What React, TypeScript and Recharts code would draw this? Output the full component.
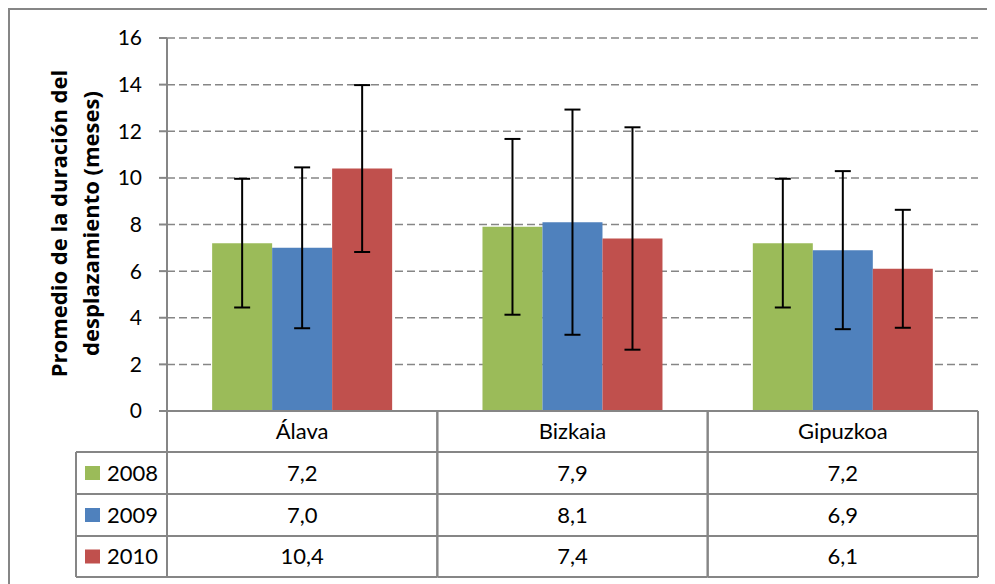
import { BarChart, Bar, XAxis, YAxis, CartesianGrid, ErrorBar } from 'recharts'

if (typeof document !== 'undefined') document.body.style.overflow = 'hidden'

// data
const provinces = ['Álava', 'Bizkaia', 'Gipuzkoa']
const years = ['2008', '2009', '2010']
const mean2008 = [7.2, 7.9, 7.2]
const mean2009 = [7.0, 8.1, 6.9]
const mean2010 = [10.4, 7.4, 6.1]
const err2008 = [2.76, 3.77, 2.76]
const err2009 = [3.45, 4.83, 3.39]
const err2010 = [3.58, 4.77, 2.53]
const yTicks = [0, 2, 4, 6, 8, 10, 12, 14, 16]

const colors = ['#9BBB59', '#4F81BD', '#C0504D']
const means = [mean2008, mean2009, mean2010]

const data = provinces.map((p, i) => ({
  name: p,
  y2008: mean2008[i],
  y2009: mean2009[i],
  y2010: mean2010[i],
  e2008: err2008[i],
  e2009: err2009[i],
  e2010: err2010[i],
}))

const GRID = '#868686'
const FONT = 'Lato, "Noto Sans", sans-serif'
const PLOT_W = 811
const ROWS = [0, 41, 83, 125, 166]
const KEY_W = 91

const fmt = (v: number) => v.toFixed(1).replace('.', ',')

function TableColumn(props: any) {
  const { x, y, payload, index } = props
  const bw = PLOT_W / provinces.length
  const left = x - bw / 2
  const right = x + bw / 2
  const ci = provinces.indexOf(payload.value)
  return (
    <g>
      <line x1={left} y1={y} x2={left} y2={y + ROWS[4]} stroke={GRID} strokeWidth={2} />
      <line x1={right} y1={y} x2={right} y2={y + ROWS[4]} stroke={GRID} strokeWidth={2} />
      {ROWS.slice(1).map((r) => (
        <line key={r} x1={left} y1={y + r} x2={right} y2={y + r} stroke={GRID} strokeWidth={2} />
      ))}
      <text x={x} y={(y + ROWS[0] + y + ROWS[1]) / 2} dy="0.36em" textAnchor="middle" fontSize={22} fill="#000">
        {payload.value}
      </text>
      {means.map((m, k) => (
        <text key={k} x={x} y={y + (ROWS[k + 1] + ROWS[k + 2]) / 2} dy="0.36em" textAnchor="middle" fontSize={22} fill="#000">
          {fmt(m[ci])}
        </text>
      ))}
      {index === 0 && (
        <g>
          <line x1={left - KEY_W} y1={y + ROWS[1]} x2={left - KEY_W} y2={y + ROWS[4]} stroke={GRID} strokeWidth={2} />
          {ROWS.slice(1).map((r) => (
            <line key={r} x1={left - KEY_W} y1={y + r} x2={left} y2={y + r} stroke={GRID} strokeWidth={2} />
          ))}
          {years.map((yr, k) => {
            const cy = y + (ROWS[k + 1] + ROWS[k + 2]) / 2
            return (
              <g key={yr}>
                <rect x={left - KEY_W + 9} y={cy - 7} width={15} height={14} fill={colors[k]} />
                <text x={left - KEY_W + 31} y={cy} dy="0.36em" fontSize={22} fill="#000">
                  {yr}
                </text>
              </g>
            )
          })}
        </g>
      )}
    </g>
  )
}

function YLabel(props: any) {
  const { viewBox } = props
  const cy = viewBox.y + viewBox.height / 2 - 1
  const l1 = viewBox.x + 59
  const l2 = viewBox.x + 91
  return (
    <g fontWeight="bold" fontSize={22} fill="#000" fontFamily='"Open Sans", Lato, sans-serif'>
      <text x={l1} y={cy} textAnchor="middle" transform={`rotate(-90, ${l1}, ${cy})`}>
        Promedio de la duración del
      </text>
      <text x={l2} y={cy} textAnchor="middle" transform={`rotate(-90, ${l2}, ${cy})`}>
        desplazamiento (meses)
      </text>
    </g>
  )
}

export default function App() {
  return (
    <div style={{ position: 'relative', width: 1000, height: 590, fontFamily: FONT }}>
      <div
        style={{
          position: 'absolute',
          left: 0,
          top: 0,
          width: 1000,
          height: 600,
          border: `2px solid ${GRID}`,
          boxSizing: 'border-box',
        }}
      />
      <div style={{ position: 'absolute', left: 0, top: 0 }}>
        <BarChart
          width={985}
          height={573}
          data={data}
          margin={{ top: 30, right: 15, left: 0, bottom: 0 }}
          barCategoryGap="16.7%"
          barGap={0}
          style={{ fontFamily: FONT }}
        >
          <CartesianGrid vertical={false} stroke={GRID} strokeDasharray="8 4" strokeWidth={1.5} />
          <XAxis
            dataKey="name"
            height={170}
            axisLine={{ stroke: GRID, strokeWidth: 2 }}
            tickLine={false}
            tickSize={0}
            tickMargin={0}
            tick={<TableColumn />}
            interval={0}
          />
          <YAxis
            width={159}
            domain={[0, 16]}
            ticks={yTicks}
            interval={0}
            axisLine={{ stroke: GRID, strokeWidth: 2 }}
            tickLine={{ stroke: GRID, strokeWidth: 2 }}
            tickSize={8}
            tickMargin={17}
            tick={{ fill: '#000', fontSize: 21 }}
            label={<YLabel />}
          />
          <Bar dataKey="y2008" fill={colors[0]} isAnimationActive={false}>
            <ErrorBar dataKey="e2008" width={8} stroke="#000" strokeWidth={2} direction="y" />
          </Bar>
          <Bar dataKey="y2009" fill={colors[1]} isAnimationActive={false}>
            <ErrorBar dataKey="e2009" width={8} stroke="#000" strokeWidth={2} direction="y" />
          </Bar>
          <Bar dataKey="y2010" fill={colors[2]} isAnimationActive={false}>
            <ErrorBar dataKey="e2010" width={8} stroke="#000" strokeWidth={2} direction="y" />
          </Bar>
        </BarChart>
      </div>
    </div>
  )
}
